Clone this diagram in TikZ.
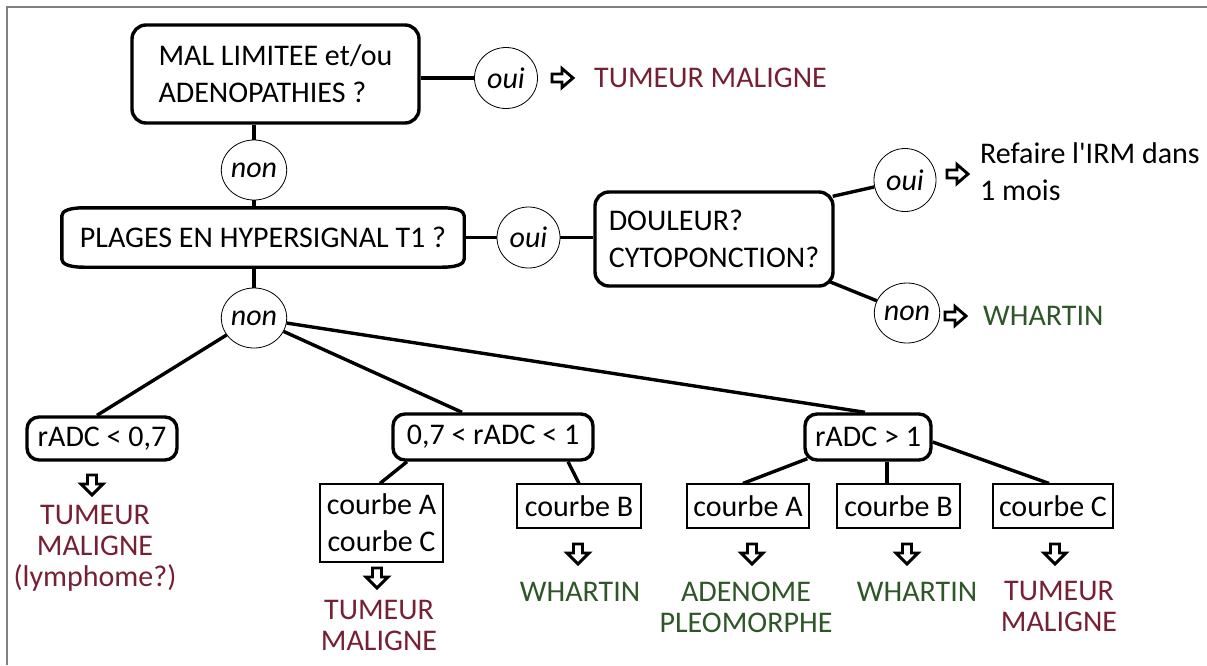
\documentclass[tikz,border=0pt]{standalone}
\usepackage{fontspec}
\setmainfont{Carlito}
\usetikzlibrary{shapes.geometric,calc}
\definecolor{mred}{RGB}{118,32,52}
\definecolor{mgreen}{RGB}{46,86,40}
\definecolor{framegray}{RGB}{128,128,128}
\newcommand\straightq{\XeTeXglyph\XeTeXcharglyph"27\relax}
\begin{document}
\begin{tikzpicture}[x=1pt,y=-1pt,
  every node/.style={font=\fontsize{30}{37}\selectfont, inner sep=0pt},
  conn/.style={line width=3.4pt},
  rbox/.style={draw, line width=3.4pt, rounded corners=14pt, align=left},
  sbox/.style={draw, line width=3.4pt, rounded corners=12pt, align=center, minimum height=46pt},
  ans/.style={draw, ellipse, line width=0.8pt, minimum width=63pt, minimum height=61pt,
              font=\fontsize{30}{37}\selectfont\itshape},
  cbox/.style={draw, line width=1.2pt, align=center, minimum height=44pt},
  res/.style={align=center, font=\fontsize{30}{31}\selectfont},
  redtxt/.style={text=mred},
  greentxt/.style={text=mgreen},
  rarrow/.pic={\draw[line width=2.9pt, line join=miter]
     (-10,-4) -- (0,-4) -- (0,-9.5) -- (11,0) -- (0,9.5) -- (0,4) -- (-10,4) -- cycle;},
  darrow/.pic={\draw[line width=2.9pt, line join=miter]
     (-4.5,-10) -- (4.5,-10) -- (4.5,-1) -- (11,-1) -- (0,10) -- (-11,-1) -- (-4.5,-1) -- cycle;}
]
\useasboundingbox (0,0) rectangle (1207,665);
\draw[framegray, line width=1.5pt] (7,665) -- (7,7) -- (1207,7);

% top question
\node[rbox, minimum width=287pt, minimum height=98pt] (b1) at (275.5,74) {MAL LIMITEE et/ou\\ADENOPATHIES ?};
\node[ans] (o1) at (506,78) {oui};
\pic at (562,78) {rarrow};
\node[anchor=base west, redtxt] (t1) at (594,87) {TUMEUR MALIGNE};
\node[ans, minimum width=62pt, minimum height=60pt] (n1) at (254,170) {non};

% second question
\node[minimum width=402pt, minimum height=59pt] (pl) at (263,237.5) {PLAGES EN HYPERSIGNAL T1 ?};
\draw[conn] ([xshift=22pt]pl.north west) -- ([xshift=-22pt]pl.north east)
  .. controls ([xshift=-8pt]pl.north east) and ([yshift=-3pt]pl.north east) .. ([yshift=-8pt]pl.north east)
  -- ([yshift=8pt]pl.south east)
  .. controls ([yshift=3pt]pl.south east) and ([xshift=-8pt]pl.south east) .. ([xshift=-22pt]pl.south east)
  -- ([xshift=22pt]pl.south west)
  .. controls ([xshift=8pt]pl.south west) and ([yshift=3pt]pl.south west) .. ([yshift=8pt]pl.south west)
  -- ([yshift=-8pt]pl.north west)
  .. controls ([yshift=-3pt]pl.north west) and ([xshift=8pt]pl.north west) .. ([xshift=22pt]pl.north west)
  -- cycle;
\node[ans] (o2) at (528.5,237.5) {oui};
\node[rbox, minimum width=238pt, minimum height=94pt] (dl) at (714,239) {DOULEUR?\\CYTOPONCTION?};
\node[ans, minimum width=62pt, minimum height=63pt] (o3) at (905,180) {oui};
\pic at (957,174) {rarrow};
\node[anchor=north west, align=left] (t2) at (980,142) {Refaire l\straightq IRM dans\\1 mois};
\node[ans, minimum width=61pt, minimum height=60pt] (n3) at (907,313) {non};
\pic at (955,316) {rarrow};
\node[anchor=base west, greentxt] (t3) at (983,325) {WHARTIN};

\node[ans, minimum width=64pt, minimum height=60pt] (n2) at (254,318) {non};

% rADC boxes
\node[sbox, minimum width=150pt, minimum height=43pt] (r07) at (102,438.5) {rADC < 0,7};
\node[sbox, minimum width=200pt] (r071) at (493,437) {0,7 < rADC < 1};
\node[sbox, minimum width=126pt] (r1) at (868,437) {rADC > 1};

% curve boxes
\node[cbox, minimum width=123pt, minimum height=78pt] (cAC) at (381.5,523) {courbe A\\courbe C};
\node[cbox, minimum width=124pt] (cB1) at (579,506) {courbe B};
\node[cbox, minimum width=122pt] (cA2) at (748,506) {courbe A};
\node[cbox, minimum width=123pt] (cB2) at (898.5,506) {courbe B};
\node[cbox, minimum width=120pt] (cC2) at (1053,506) {courbe C};

% results
\pic at (92,485) {darrow};
\node[res, redtxt, anchor=north] (res07) at (95,505.5) {TUMEUR\\MALIGNE\\(lymphome?)};
\pic at (377,578) {darrow};
\node[res, redtxt, anchor=north] (resAC) at (379,600.5) {TUMEUR\\MALIGNE};
\pic at (578,554) {darrow};
\node[anchor=base, greentxt] (resB1) at (580,601) {WHARTIN};
\pic at (752,554) {darrow};
\node[res, greentxt, anchor=north] (resA2) at (746,582) {ADENOME\\PLEOMORPHE};
\pic at (907,554) {darrow};
\node[anchor=base, greentxt] (resB2) at (917,601) {WHARTIN};
\pic at (1055,554) {darrow};
\node[res, redtxt, anchor=north] (resC2) at (1059,581.5) {TUMEUR\\MALIGNE};

% connectors
\draw[conn] (o1.west) -- (o1.west -| b1.east);
\draw[conn] (n1.north) -- (n1.north |- b1.south);
\draw[conn] (n1.south) -- (n1.south |- pl.north);
\draw[conn] (n2.north) -- (n2.north |- pl.south);
\draw[conn] (o2.west) -- (o2.west -| pl.east);
\draw[conn] (o2.east) -- (o2.east -| dl.west);
\draw[conn] ([xshift=-2pt,yshift=-6pt]dl.north east) -- (o3);
\draw[conn] ([xshift=-5pt,yshift=6pt]dl.south east) -- (n3);
\draw[conn] (n2) -- ([xshift=-5pt]r07.north);
\draw[conn] (n2) -- ([xshift=-31pt]r071.north);
\draw[conn] (n2) -- ([xshift=-3pt]r1.north);
\draw[conn] ([xshift=-86pt]r071.south) -- ([xshift=-1.5pt]cAC.north);
\draw[conn] ([xshift=75pt]r071.south) -- (cB1.north);
\draw[conn] ([xshift=4pt,yshift=3pt]r1.south west) -- ([xshift=-5pt]cA2.north);
\draw[conn] ([xshift=19pt]r1.south) -- ([xshift=19pt]r1.south |- cB2.north);
\draw[conn] ([yshift=-5pt]r1.east) -- ([xshift=-4pt]cC2.north);
\end{tikzpicture}
\end{document}
